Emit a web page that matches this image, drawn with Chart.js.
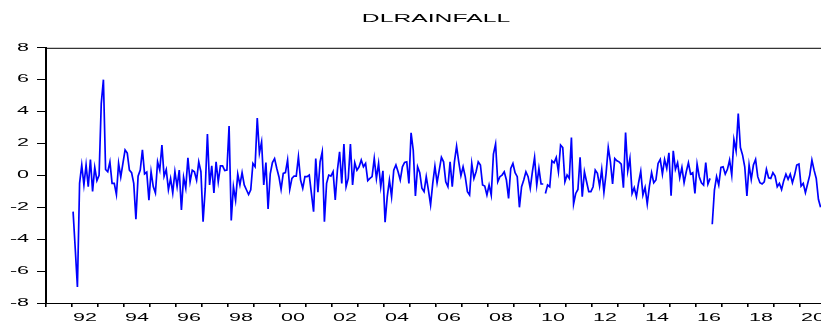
<!DOCTYPE html>
<html>
<head>
<meta charset="utf-8">
<script src="https://cdn.jsdelivr.net/npm/chart.js@4/dist/chart.umd.min.js"></script>
<style>
  html, body { margin: 0; padding: 0; background: #fff; overflow: hidden; }
  #wrap { width: 821px; height: 322px; overflow: hidden; }
  canvas { display: block; }
</style>
</head>
<body>
<div id="wrap"><canvas id="c" width="872" height="322"></canvas></div>
<script>
// Monthly first-differenced log rainfall, January 1992 onwards (one row per year).
const seriesName = 'DLRAINFALL';
const firstYear = 1992;
const dlRainfall1992_1999 = [
  -2.27, -4.6, -7.0, -0.5, 0.65, -0.6, 0.65, -0.7, 1.0, -1.0, 0.5, -0.33,
  0.0, 4.5, 6.0, 0.37, 0.23, 0.85, -0.5, -0.5, -1.2, 0.75, -0.1, 0.75,
  1.6, 1.4, 0.33, 0.17, -0.5, -2.75, -0.05, 0.33, 1.6, 0.1, 0.2, -1.55,
  0.23, -0.7, -1.1, 0.85, 0.33, 1.9, -0.05, 0.37, -0.9, -0.2, -1.1, 0.23,
  -0.7, 0.33, -2.17, -0.12, -0.8, 1.1, -0.4, 0.33, 0.23, -0.3, 0.85, 0.23,
  -2.9, -0.8, 2.6, -0.6, 0.6, -1.1, 0.85, -0.4, 0.6, 0.6, 0.3, 0.33,
  3.1, -2.83, -0.7, -1.55, 0.08, -0.6, 0.17, -0.6, -0.9, -1.2, -0.9, 0.75,
  0.55, 3.6, 1.4, 2.1, -0.6, 0.8, -2.1, 0.1, 0.8, 1.05, 0.45, -0.08
];
const dlRainfall2000_2009 = [
  -0.88, 0.13, 0.17, 0.96, -0.88, -0.19, -0.04, -0.04, 1.17, -0.29, -0.81, -0.08,
  -0.08, 0.02, -1.13, -2.27, 1.06, -1.06, 0.85, 1.48, -2.9, -0.5, 0.02, -0.04,
  0.23, -1.54, 0.33, 1.48, -0.5, 1.96, -0.71, -0.19, 1.96, -0.6, 0.79, 0.33,
  0.54, 0.96, 0.54, 0.75, -0.33, -0.19, -0.08, 1.06, -0.19, 0.75, -0.71, 0.29,
  -2.94, -1.33, -0.29, -1.33, 0.33, 0.65, 0.23, -0.29, 0.54, 0.81, 0.85, -0.5,
  2.67, 1.58, -1.29, 0.54, 0.17, -0.81, -1.02, -0.08, -0.92, -1.85, -0.5, 0.58,
  -0.46, 0.33, 1.13, 0.85, -0.4, -0.71, 0.85, -0.71, 0.85, 1.83, 0.85, -0.02,
  0.54, -0.08, -1.02, -1.23, 0.75, -0.19, 0.23, 0.85, 0.65, -0.6, -0.67, -1.23,
  -0.6, -1.23, 1.33, 1.96, -0.4, -0.08, 0.02, 0.23, -0.29, -1.44, 0.44, 0.75,
  0.17, -0.08, -2.0, -0.71, -0.29, 0.23, -0.08, -0.81, 0.23, 1.13, -0.6, 0.44
];
const dlRainfall2010_2020 = [
  -0.54, -0.54, -1.13, -0.6, -0.71, 0.92, 0.79, 1.13, 0.23, 1.9, 1.75, -0.4,
  0.02, -0.19, 2.38, -1.79, -1.13, -0.88, 1.13, -1.33, 0.23, -0.4, -1.02, -1.02,
  -0.71, 0.33, 0.13, -0.67, 0.38, -1.06, 0.13, 1.75, 0.85, -0.54, 1.06, 0.92,
  0.85, 0.71, -0.77, 2.69, 0.29, 1.06, -1.13, -0.77, -1.33, -0.46, 0.25, -1.23,
  -0.75, -1.79, -0.67, 0.17, -0.46, -0.29, 0.75, 1.0, 0.08, 1.0, 0.44, 1.42,
  -1.27, 1.54, 0.38, 0.79, -0.15, 0.5, -0.46, 0.23, 0.79, 0.08, 0.17, -1.13,
  0.71, -0.08, -0.46, -0.6, 0.81, -0.54, -0.19, -3.06, -0.92, -0.08, -0.6, 0.5,
  0.54, 0.08, 0.38, 0.96, 0.02, 2.25, 1.54, 3.88, 1.75, 1.27, 0.54, -1.29,
  0.65, -0.25, 0.65, 1.0, -0.08, -0.46, -0.54, -0.4, 0.38, -0.15, -0.19, 0.17,
  -0.04, -0.71, -0.5, -0.88, -0.33, 0.08, -0.25, 0.08, -0.46, 0.02, 0.65, 0.71,
  -0.67, -0.5, -1.08, -0.54, 0.02, 0.96, 0.33, -0.19, -1.5, -2.0
];
const dlRainfall = [...dlRainfall1992_1999, ...dlRainfall2000_2009, ...dlRainfall2010_2020];
// The line is not joined after these observations (Feb 2010, Jul 2016).
const breakAfter = [217, 294];

// Axis ranges and tick labels
const xStartYear = 1991;
const xEndYear = 2021;
const labelYears = [1992, 1994, 1996, 1998, 2000, 2002, 2004, 2006, 2008, 2010, 2012, 2014, 2016, 2018, 2020];
const yearLabels = ['92', '94', '96', '98', '00', '02', '04', '06', '08', '10', '12', '14', '16', '18', '20'];
const yMin = -8, yMax = 8, yStep = 2;

// The graph's lettering is set wide: every text run is drawn (and measured)
// with a horizontal stretch.
const TEXT_STRETCH = 2.15;
const canvas = document.getElementById('c');
const ctx = canvas.getContext('2d');
const baseFillText = ctx.fillText.bind(ctx);
const baseMeasureText = ctx.measureText.bind(ctx);
ctx.fillText = function (text, x, y, maxWidth) {
  ctx.save();
  ctx.translate(x, y);
  ctx.scale(TEXT_STRETCH, 1);
  if (maxWidth === undefined) baseFillText(text, 0, 0);
  else baseFillText(text, 0, 0, maxWidth / TEXT_STRETCH);
  ctx.restore();
};
ctx.measureText = function (text) {
  const m = baseMeasureText(text);
  return {
    width: m.width * TEXT_STRETCH,
    actualBoundingBoxAscent: m.actualBoundingBoxAscent,
    actualBoundingBoxDescent: m.actualBoundingBoxDescent,
    actualBoundingBoxLeft: m.actualBoundingBoxLeft * TEXT_STRETCH,
    actualBoundingBoxRight: m.actualBoundingBoxRight * TEXT_STRETCH,
    fontBoundingBoxAscent: m.fontBoundingBoxAscent,
    fontBoundingBoxDescent: m.fontBoundingBoxDescent
  };
};

// Each month is plotted at its middle.
const points = dlRainfall.map((v, i) => ({ x: firstYear + (i + 0.5) / 12, y: v }));

// Frame line along the top of the plot area
const frameTop = {
  id: 'frameTop',
  afterDraw(chart) {
    const { ctx: c, chartArea: a } = chart;
    c.save();
    c.strokeStyle = '#000';
    c.lineWidth = 1;
    c.beginPath();
    c.moveTo(a.left, a.top + 0.5);
    c.lineTo(a.right, a.top + 0.5);
    c.stroke();
    c.restore();
  }
};

const font = { family: '"Liberation Sans", Arial, sans-serif', size: 10 };

new Chart(ctx, {
  type: 'line',
  data: {
    datasets: [{
      label: seriesName,
      data: points,
      borderColor: '#0000ff',
      borderWidth: 1.7,
      pointRadius: 0,
      tension: 0,
      fill: false,
      segment: {
        borderColor: (s) => breakAfter.includes(s.p0DataIndex) ? 'rgba(0,0,0,0)' : undefined
      }
    }]
  },
  options: {
    responsive: false,
    animation: false,
    devicePixelRatio: 1,
    plugins: {
      legend: { display: false },
      tooltip: { enabled: false },
      title: {
        display: true,
        text: seriesName,
        color: '#000',
        font: { family: font.family, size: 11.5, weight: 'normal' },
        padding: { top: 12, bottom: 22 }
      }
    },
    scales: {
      x: {
        type: 'linear',
        min: xStartYear,
        max: xEndYear,
        afterBuildTicks(scale) {
          const ticks = [];
          for (let yr = xStartYear; yr <= xEndYear; yr++) {
            ticks.push({ value: yr });
            if (yr < xEndYear) ticks.push({ value: yr + 0.5 });
          }
          scale.ticks = ticks;
        },
        afterFit(scale) { scale.height = 19; },
        border: { display: true, color: '#000', width: 1 },
        grid: {
          drawOnChartArea: false,
          drawTicks: true,
          tickLength: 4,
          lineWidth: 1.6,
          color: (c) => (c.tick && Number.isInteger(c.tick.value)) ? '#000' : 'rgba(0,0,0,0)'
        },
        ticks: {
          autoSkip: false,
          maxRotation: 0,
          minRotation: 0,
          padding: 5,
          color: '#000',
          font,
          callback: (value) => {
            const k = labelYears.indexOf(value - 0.5);
            return k >= 0 ? yearLabels[k] : '';
          }
        }
      },
      y: {
        min: yMin,
        max: yMax,
        afterFit(scale) { scale.width = 46; },
        border: { display: true, color: '#000', width: 2 },
        grid: {
          drawOnChartArea: false,
          drawTicks: true,
          tickLength: 9,
          lineWidth: 1,
          color: '#000'
        },
        ticks: {
          stepSize: yStep,
          padding: 8,
          crossAlign: 'near',
          color: '#000',
          font
        }
      },
      // Empty margin on the right, matching the axis margin on the left
      yRight: {
        position: 'right',
        min: yMin,
        max: yMax,
        afterFit(scale) { scale.width = 46; },
        border: { display: false },
        grid: { display: false, drawOnChartArea: false },
        ticks: { display: false }
      }
    }
  },
  plugins: [frameTop]
});
</script>
</body>
</html>
